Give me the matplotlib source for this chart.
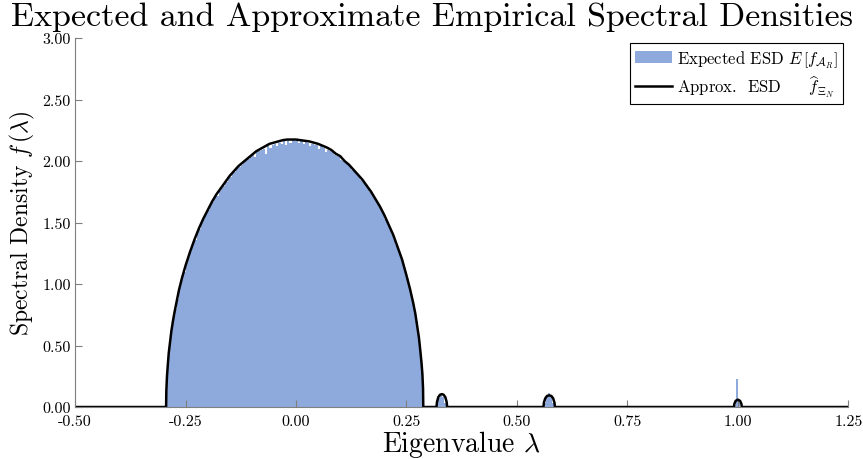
import matplotlib
matplotlib.use("Agg")
import matplotlib.pyplot as plt
from matplotlib.patches import Patch
from matplotlib.lines import Line2D
from matplotlib.ticker import FormatStrFormatter
import numpy as np

plt.rcParams['font.family'] = ['cmr10', 'DejaVu Serif']
plt.rcParams['mathtext.fontset'] = 'cm'
plt.rcParams['axes.unicode_minus'] = False
plt.rcParams['axes.formatter.use_mathtext'] = True

# histogram of the expected ESD (bulk), bins between bin_lo and bin_hi
bin_lo, bin_hi = -0.295, 0.290
esd_heights = [
    0.22, 0.42, 0.57, 0.70, 0.80, 0.88, 0.97, 1.03, 1.10, 1.17,
    1.22, 1.27, 1.33, 1.36, 1.42, 1.45, 1.50, 1.53, 1.58, 1.60,
    1.64, 1.67, 1.70, 1.72, 1.76, 1.78, 1.80, 1.83, 1.86, 1.87,
    1.90, 1.91, 1.94, 1.95, 1.97, 1.99, 2.00, 2.02, 2.03, 2.05,
    2.03, 2.07, 2.08, 2.09, 2.10, 2.06, 2.12, 2.11, 2.13, 2.14,
    2.12, 2.15, 2.14, 2.16, 2.13, 2.16, 2.15, 2.17, 2.16,
    2.17, 2.15, 2.17, 2.14, 2.16, 2.15, 2.12, 2.14, 2.13, 2.13,
    2.10, 2.12, 2.11, 2.07, 2.09, 2.08, 2.07, 2.05, 2.04, 2.03,
    2.01, 2.00, 1.99, 1.97, 1.95, 1.93, 1.92, 1.89, 1.87, 1.85,
    1.83, 1.81, 1.78, 1.75, 1.73, 1.70, 1.67, 1.64, 1.60, 1.57,
    1.53, 1.50, 1.46, 1.41, 1.37, 1.32, 1.27, 1.22, 1.16, 1.10,
    1.04, 0.96, 0.89, 0.80, 0.70, 0.58, 0.42, 0.13,
]

# outlier eigenvalue bins
out_lam = [0.3175, 0.3225, 0.3275, 0.3325, 0.3375,
           0.5625, 0.5675, 0.5725, 0.5775, 0.5825,
           0.9925, 0.9975, 1.0025]
out_f = [0.02, 0.07, 0.10, 0.08, 0.03,
         0.03, 0.08, 0.11, 0.09, 0.03,
         0.02, 0.23, 0.03]
bin_w = 0.005

# approximate ESD curve
curve_lam = [-0.50, -0.294, -0.2935, -0.292, -0.290, -0.288, -0.285, -0.282, -0.278,
             -0.275, -0.270, -0.265, -0.258, -0.250, -0.240, -0.230, -0.220, -0.210,
             -0.200, -0.190, -0.180, -0.170, -0.160, -0.150, -0.140, -0.130, -0.120,
             -0.110, -0.100, -0.090, -0.080, -0.070, -0.060, -0.050, -0.040, -0.030,
             -0.020, -0.010, 0.000, 0.010, 0.020, 0.030, 0.040, 0.050, 0.060, 0.070,
             0.080, 0.090, 0.100, 0.110, 0.120, 0.130, 0.140, 0.150, 0.160, 0.170,
             0.180, 0.190, 0.200, 0.210, 0.220, 0.230, 0.240, 0.250, 0.258, 0.265,
             0.270, 0.275, 0.278, 0.281, 0.284, 0.286, 0.2875, 0.288,
             0.318, 0.319, 0.322, 0.326, 0.330, 0.334, 0.338, 0.341, 0.342,
             0.560, 0.561, 0.564, 0.568, 0.573, 0.578, 0.582, 0.585, 0.586,
             0.991, 0.992, 0.995, 1.000, 1.005, 1.008, 1.009, 1.25]
curve_f = [0.0, 0.0, 0.13, 0.25, 0.35, 0.44, 0.53, 0.62, 0.71,
           0.77, 0.86, 0.95, 1.05, 1.15, 1.26, 1.36, 1.45, 1.53,
           1.60, 1.67, 1.73, 1.78, 1.83, 1.88, 1.92, 1.96, 1.99,
           2.02, 2.05, 2.08, 2.10, 2.12, 2.14, 2.15, 2.16, 2.17,
           2.175, 2.175, 2.175, 2.17, 2.165, 2.16, 2.15, 2.14, 2.125, 2.11,
           2.09, 2.06, 2.04, 2.00, 1.97, 1.93, 1.89, 1.85, 1.80, 1.75,
           1.69, 1.63, 1.56, 1.48, 1.40, 1.30, 1.20, 1.07, 0.96, 0.85,
           0.76, 0.64, 0.57, 0.47, 0.36, 0.27, 0.15, 0.0,
           0.0, 0.04, 0.08, 0.10, 0.105, 0.10, 0.08, 0.04, 0.0,
           0.0, 0.035, 0.07, 0.09, 0.095, 0.09, 0.07, 0.035, 0.0,
           0.0, 0.025, 0.05, 0.06, 0.05, 0.025, 0.0, 0.0]

blue = '#8eaadc'
grey = '#7f7f7f'

fig = plt.figure(figsize=(8.63, 4.60), dpi=100)
ax = fig.add_axes([0.087, 0.113, 0.896, 0.802])

edges = np.linspace(bin_lo, bin_hi, len(esd_heights) + 1)
ax.stairs(esd_heights, edges, fill=True, color=blue, linewidth=0)
ax.bar(out_lam, out_f, width=bin_w, color=blue, linewidth=0)
ax.plot(curve_lam, curve_f, color='black', linewidth=1.8, solid_joinstyle='round')

ax.set_xlim(-0.5, 1.25)
ax.set_ylim(0, 3.0)
ax.set_xticks(np.arange(-0.5, 1.26, 0.25))
ax.set_yticks(np.arange(0, 3.01, 0.5))
ax.xaxis.set_major_formatter(FormatStrFormatter('%.2f'))
ax.yaxis.set_major_formatter(FormatStrFormatter('%.2f'))
ax.tick_params(direction='in', length=5, color=grey, labelsize=11.5)
ax.tick_params(axis='x', pad=5)
ax.tick_params(axis='y', pad=3)
for s in ['top', 'right']:
    ax.spines[s].set_visible(False)
for s in ['left', 'bottom']:
    ax.spines[s].set_color(grey)

ax.set_xlabel(r'Eigenvalue $\lambda$', fontsize=20, labelpad=0)
ax.set_ylabel(r'Spectral Density $f\,(\lambda)$', fontsize=17, labelpad=4)
fig.text(0.5, 0.943, 'Expected and Approximate Empirical Spectral Densities',
         fontsize=24.5, ha='center', va='baseline')

handles = [Patch(facecolor=blue, edgecolor='none'),
           Line2D([0], [0], color='black', linewidth=1.8)]
labels = [r'Expected ESD $E\,\left[f_{\mathcal{A}_R}\right]$',
          r'Approx.  ESD     $\widehat{f}_{\Xi_N}$']
leg = ax.legend(handles, labels, loc='upper right', fontsize=12, fancybox=False,
                framealpha=1, edgecolor='black', borderpad=0.3, handlelength=2.2,
                handletextpad=0.3, labelspacing=0.2, borderaxespad=0.3)
leg.get_frame().set_linewidth(0.8)

fig.savefig('out.png', dpi=100)
